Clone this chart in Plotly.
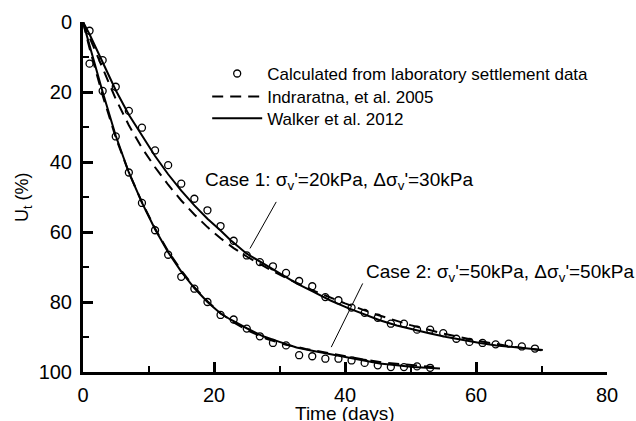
import plotly.graph_objects as go

# ---------------- data ----------------
case1_t_obs = [1, 3, 5, 7, 9, 11, 13, 15, 17, 19, 21, 23, 25, 27, 29, 31, 33, 35,
               37, 39, 41, 43, 45, 47, 49, 51, 53, 55, 57, 59, 61, 63, 65, 67, 69]
case1_u_obs = [2.5, 10.9, 18.5, 25.4, 30.2, 36.7, 40.9, 46.2, 50.5, 53.8, 58.3, 62.5,
               66.7, 68.6, 69.8, 71.7, 74.0, 75.5, 78.6, 79.5, 81.6, 83.1, 84.5, 86.2,
               86.2, 87.9, 87.9, 88.9, 90.5, 91.4, 91.7, 92.1, 91.9, 92.7, 93.3]

case2_t_obs = [1, 3, 5, 7, 9, 11, 13, 15, 17, 19, 21, 23, 25, 27, 29, 31, 33, 35,
               37, 39, 41, 43, 45, 47, 49, 51, 53]
case2_u_obs = [11.9, 19.7, 32.7, 43.0, 51.7, 59.5, 66.5, 72.8, 76.2, 80.0, 83.7, 85.0,
               87.6, 89.8, 91.7, 92.4, 95.2, 95.5, 96.2, 96.2, 96.7, 97.4, 98.1, 98.6,
               98.6, 98.4, 98.8]

# Indraratna et al. 2005 (dashed)
case1_t_ind = [0, 1, 3, 5, 7, 9, 11, 13, 15, 17, 19, 21, 23, 25, 28, 31, 35, 40, 45,
               50, 55, 60, 65, 70]
case1_u_ind = [0, 4.5, 13.5, 22, 29.5, 36, 41.5, 46.5, 51, 55, 58.6, 61.8, 64.6, 67,
               70.2, 73.1, 76.6, 80.4, 83.7, 86.6, 89, 91, 92.6, 93.8]
case2_t_ind = [0, 1, 3, 5, 7, 9, 11, 13, 15, 17, 19, 21, 23, 25, 28, 31, 34, 37, 40,
               43, 46, 49, 53.5]
case2_u_ind = [0, 7.5, 21, 33, 43, 51.5, 59, 65.5, 71, 75.8, 79.8, 83.2, 85.8, 88,
               90.5, 92.2, 93.4, 94.5, 95.5, 96.5, 97.3, 97.9, 98.6]

# Walker et al. 2012 (solid)
case1_t_wal = [0, 1, 3, 5, 7, 9, 11, 13, 15, 17, 19, 21, 22.5, 25, 27.5, 30.1, 32.6,
               35.2, 37.7, 40.3, 42.8, 45.3, 47.9, 50.4, 53, 55.5, 58, 60.6, 63.1,
               65.7, 70.2]
case1_u_wal = [0, 3.5, 11.5, 19.5, 26.5, 32.5, 38.3, 43.5, 48.2, 52.4, 56.2, 59.6,
               62.3, 66.2, 69, 71.9, 74.7, 77.1, 79.5, 81.6, 83.3, 85.2, 86.7, 87.9,
               89.0, 90.0, 90.9, 91.7, 92.4, 92.9, 93.7]
case2_t_wal = [0, 1, 3, 5, 7, 9, 11, 13, 15, 17, 19, 21, 22.5, 25, 27.5, 30, 32.6,
               35.2, 37.7, 40.3, 42.8, 45.3, 47.9, 50.4, 54.5]
case2_u_wal = [0, 6.8, 20, 32.5, 43, 51.6, 59.2, 65.8, 71.3, 76, 80, 83.3, 85, 87.5,
               89.8, 91.4, 93, 94, 94.9, 95.9, 96.8, 97.6, 98.1, 98.6, 99.0]

x_ticks = [0, 20, 40, 60, 80]
y_ticks = [0, 20, 40, 60, 80, 100]

legend_names = ["Calculated from laboratory settlement data",
                "Indraratna, et al. 2005",
                "Walker et al. 2012"]

case1_label = "Case 1: σ<sub>v</sub>'=20kPa, Δσ<sub>v</sub>'=30kPa"
case2_label = "Case 2: σ<sub>v</sub>'=50kPa, Δσ<sub>v</sub>'=50kPa"

FONT = "Arial, 'Liberation Sans', sans-serif"

fig = go.Figure()

marker = dict(symbol="circle-open", size=7, color="black", line=dict(width=1.3, color="black"))
dash_line = dict(color="black", width=2, dash="11px,7px")
solid_line = dict(color="black", width=2)

fig.add_trace(go.Scatter(x=case1_t_obs, y=case1_u_obs, mode="markers", marker=marker,
                         name=legend_names[0], legend="legend", showlegend=True))
fig.add_trace(go.Scatter(x=case1_t_ind, y=case1_u_ind, mode="lines", line=dash_line,
                         name=legend_names[1], legend="legend2", showlegend=True))
fig.add_trace(go.Scatter(x=case1_t_wal, y=case1_u_wal, mode="lines", line=solid_line,
                         name=legend_names[2], legend="legend3", showlegend=True))
fig.add_trace(go.Scatter(x=case2_t_ind, y=case2_u_ind, mode="lines", line=dash_line,
                         showlegend=False))
fig.add_trace(go.Scatter(x=case2_t_wal, y=case2_u_wal, mode="lines", line=solid_line,
                         showlegend=False))
fig.add_trace(go.Scatter(x=case2_t_obs, y=case2_u_obs, mode="markers", marker=marker,
                         showlegend=False))

# leader lines for case labels
fig.add_shape(type="line", x0=29.5, y0=51.4, x1=25.5, y1=64.7,
              line=dict(color="black", width=1))
fig.add_shape(type="line", x0=42.7, y0=74.7, x1=37.9, y1=92.9,
              line=dict(color="black", width=1))

fig.add_annotation(x=18.3, y=45.3, text=case1_label, showarrow=False, xanchor="left",
                   yanchor="middle", font=dict(size=19, color="black", family=FONT))
fig.add_annotation(x=42.9, y=71.6, text=case2_label, showarrow=False, xanchor="left",
                   yanchor="middle", font=dict(size=19, color="black", family=FONT))

# axis titles
fig.add_annotation(xref="paper", yref="paper", x=0.5, y=0, yshift=-28.5, text="Time (days)",
                   showarrow=False, xanchor="center", yanchor="top",
                   font=dict(size=19, color="black", family=FONT))
fig.add_annotation(xref="paper", yref="paper", x=0, xshift=-60, y=0.5, text="U<sub>t</sub> (%)",
                   textangle=-90, showarrow=False, xanchor="center", yanchor="middle",
                   font=dict(size=18, color="black", family=FONT))

fig.update_xaxes(range=[0, 80], tickvals=x_ticks, ticks="inside", ticklen=10, tickwidth=2.5,
                 tickcolor="black", showline=True, linecolor="black", linewidth=3,
                 showgrid=False, zeroline=False, ticklabelstandoff=3,
                 minor=dict(ticks="inside", ticklen=6, tickwidth=2, tickcolor="black", dtick=10,
                            tick0=0, showgrid=False),
                 tickfont=dict(size=20, color="black", family=FONT))
fig.update_yaxes(range=[100, 0], tickvals=y_ticks, ticks="inside", ticklen=10, tickwidth=2.5,
                 tickcolor="black", showline=True, linecolor="black", linewidth=3,
                 showgrid=False, zeroline=False, ticklabelstandoff=4,
                 minor=dict(ticks="inside", ticklen=6, tickwidth=2, tickcolor="black", dtick=10,
                            tick0=0, showgrid=False),
                 tickfont=dict(size=20, color="black", family=FONT))

legend_common = dict(x=0.237, xanchor="left", yanchor="top", bgcolor="rgba(0,0,0,0)",
                     font=dict(size=17, color="black", family=FONT), itemwidth=50)

fig.update_layout(
    width=636, height=421,
    margin=dict(l=83, r=29, t=22, b=49),
    paper_bgcolor="white", plot_bgcolor="white",
    font=dict(family=FONT, color="black"),
    legend=dict(y=0.903, **legend_common),
    legend2=dict(y=0.837, **legend_common),
    legend3=dict(y=0.775, **legend_common),
)

fig.write_html("out.html", config={"displayModeBar": False},
               post_script="document.body.style.margin='0px';")
